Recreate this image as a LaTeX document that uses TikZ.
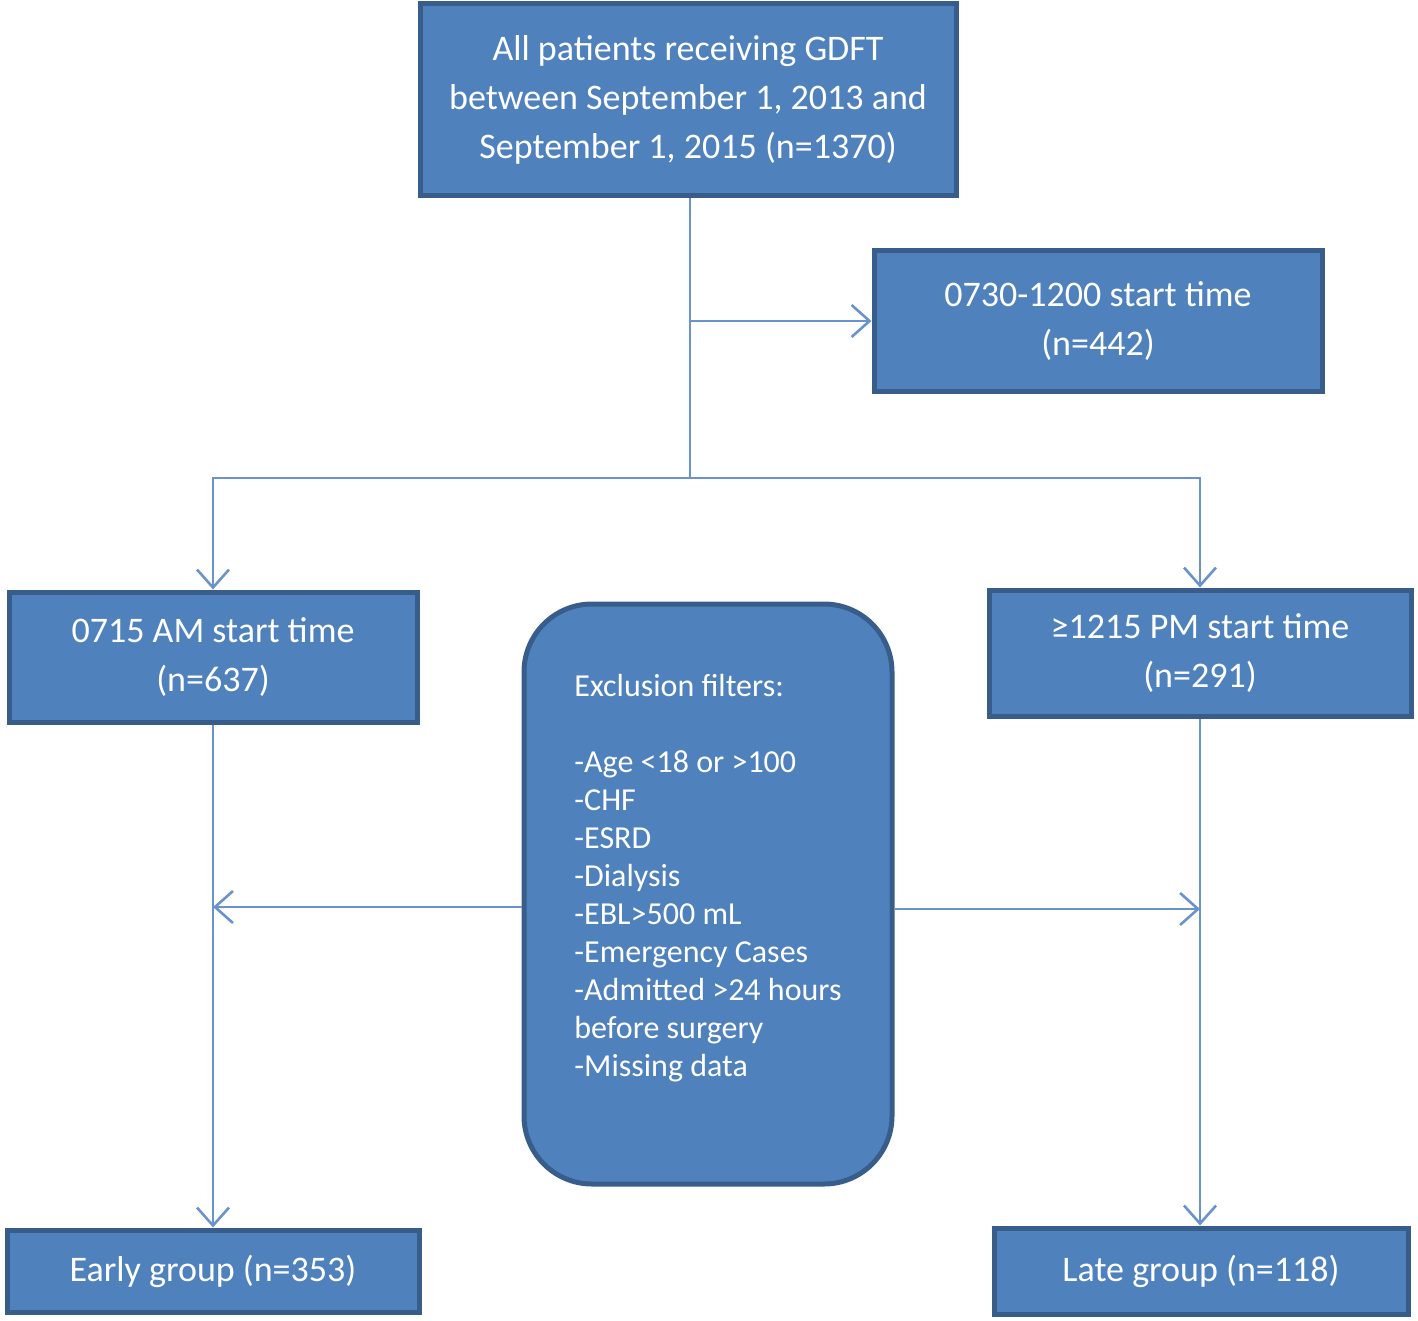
\documentclass[tikz,border=0pt]{standalone}
\usepackage{fontspec}
\setmainfont{Carlito}
\usetikzlibrary{arrows.meta,positioning,calc}
\definecolor{boxfill}{HTML}{4F81BD}
\definecolor{boxline}{HTML}{385D8A}
\definecolor{linkline}{HTML}{6A93CC}

\begin{document}
\begin{tikzpicture}[
    x=0.5pt, y=-0.5pt,
    stage/.style={rectangle, draw=boxline, fill=boxfill, line width=2.5pt, text=white, align=center, inner sep=0pt, font=\fontsize{18}{24.5}\selectfont},
    filterbox/.style={rectangle, rounded corners=34pt, draw=boxline, fill=boxfill, line width=2.5pt},
    link/.style={draw=linkline, line width=1.3pt},
    arr/.style={link, -{Straight Barb[length=9pt,width=16pt]}}
]
\useasboundingbox (0,0) rectangle (1418,1321);

% Start times
\node (all) [stage, minimum width=268pt, minimum height=96pt] at (688,100) {All patients receiving GDFT\\between September 1, 2013 and\\September 1, 2015 (n=1370)};
\node (mid) [stage, minimum width=224pt, minimum height=70pt] at (1098,321) {0730-1200 start time\\(n=442)};
\node (early) [stage, minimum width=204pt, minimum height=65pt] at (213,657) {0715 AM start time\\(n=637)};
\node (late) [stage, minimum width=211pt, minimum height=63pt] at (1200,653) {≥1215 PM start time\\(n=291)};

% Exclusion
\node (excl) [filterbox, minimum width=184pt, minimum height=290pt] at (708,894) {};
\node (excltext) [text=white, align=left, font=\fontsize{16}{19}\selectfont] at ([yshift=8pt]excl.center)
    {Exclusion filters:\\[19pt]-Age <18 or >100\\-CHF\\-ESRD\\-Dialysis\\-EBL>500~mL\\-Emergency Cases\\-Admitted >24 hours\\before surgery\\-Missing data};

% Groups
\node (earlygrp) [stage, minimum width=206pt, minimum height=41pt] at (213,1271) {Early group (n=353)};
\node (lategrp) [stage, minimum width=207pt, minimum height=43pt] at (1201,1271) {Late group (n=118)};

% Connections
\coordinate (split) at (690,478);
\draw[link] (all.south -| split) -- (split);
\draw[arr] (split |- mid.west) -- (mid.west);
\draw[arr] (split) -| (early.north);
\draw[arr] (split) -| (late.north);
\draw[arr] (early.south) -- (early.south |- earlygrp.north);
\draw[arr] (late.south) -- (late.south |- lategrp.north);
\draw[arr] ([yshift=-6.5pt]excl.west) -- ([yshift=-6.5pt]excl.west -| early.south);
\draw[arr] ([yshift=-7.5pt]excl.east) -- ([yshift=-7.5pt]excl.east -| late.south);

\end{tikzpicture}
\end{document}
